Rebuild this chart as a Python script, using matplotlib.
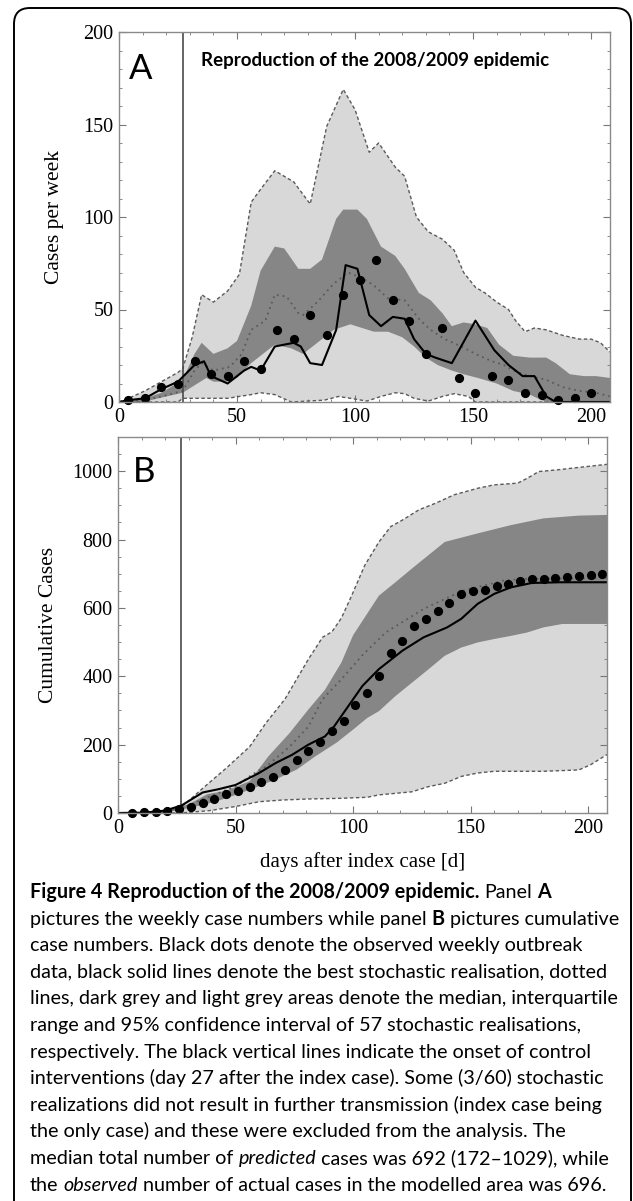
import numpy as np
import matplotlib
matplotlib.use("Agg")
import matplotlib.pyplot as plt
from matplotlib.patches import FancyBboxPatch
from matplotlib.transforms import IdentityTransform
from matplotlib.ticker import MultipleLocator

W, H = 633, 1201

###--- Panel A: weekly cases ---###
obs_days_a = [4, 11, 18, 25, 32, 39, 46, 53, 60, 67, 74, 81, 88, 95, 102, 109, 116, 123, 130, 137,
              144, 151, 158, 165, 172, 179, 186, 193, 200]
obs_a = [1, 2, 8, 10, 22, 15, 14, 22, 18, 39, 34, 47, 36, 58, 66, 77, 55, 44, 26, 40,
         13, 5, 14, 12, 5, 4, 1, 2, 5]

up95_days_a = [0, 4, 11, 18, 25, 27, 31, 35, 40, 46, 51, 56, 60, 66, 70, 74, 81, 88, 95, 100, 106, 110,
               117, 121, 126, 131, 137, 142, 146, 151, 155, 160, 165, 168, 172, 176, 181, 188, 195, 200, 204, 208]
up95_a = [0, 2, 6, 11, 16, 18, 35, 58, 54, 60, 69, 108, 115, 125, 122, 119, 107, 149, 169, 158, 135, 140,
          127, 122, 100, 92, 88, 82, 70, 62, 59, 54, 50, 44, 38, 40, 39, 36, 34, 34, 32, 27]

lo95_days_a = [0, 25, 27, 46, 56, 60, 66, 73, 87, 93, 98, 105, 111, 117, 121, 125, 131, 137, 142, 148, 151, 208]
lo95_a = [0, 0, 2, 2, 4, 5, 4, 0, 1, 3, 2, 0.5, 3, 5, 4.5, 2, 0.5, 3, 4.5, 3, 0, 0]

q75_days_a = [0, 4, 11, 18, 27, 32, 35, 40, 46, 50, 56, 60, 66, 70, 76, 81, 86, 92, 95, 101, 105, 111,
              117, 121, 127, 132, 137, 141, 146, 151, 156, 161, 167, 174, 181, 185, 191, 197, 202, 208]
q75_a = [0, 1, 2, 5, 12, 26, 32, 26, 29, 33, 52, 71, 84, 83, 72, 72, 77, 99, 104, 104, 99, 84,
         79, 72, 59, 55, 48, 41, 43, 42, 40, 31, 25, 24, 24, 21, 15, 14, 14, 13]

q25_days_a = [0, 10, 27, 32, 37, 40, 46, 50, 56, 63, 66, 73, 78, 83, 91, 98, 103, 108, 114, 120, 125,
              130, 135, 141, 146, 152, 160, 167, 174, 179, 182, 208]
q25_a = [0, 0, 5, 9, 13, 11, 11, 13, 21, 28, 31, 29, 26, 31, 39, 42, 40, 38, 38, 35, 30,
         24, 20, 17, 15, 13, 10, 6, 4, 1, 0, 0]

med_days_a = [0, 11, 18, 27, 32, 35, 40, 47, 52, 56, 62, 66, 71, 76, 78, 84, 91, 97, 103, 108, 114, 121,
              127, 132, 138, 145, 151, 158, 163, 167, 174, 181, 188, 195, 202, 208]
med_a = [0, 1, 3, 6, 17, 21, 17, 19, 26, 39, 44, 58, 57, 48, 47, 54, 64, 70, 67, 63, 56, 55,
         45, 39, 34, 30, 26, 22, 20, 17, 14, 12, 8, 6, 5, 3]

best_days_a = [0, 4, 11, 18, 25, 32, 36, 39, 46, 53, 56, 60, 66, 74, 77, 81, 86, 92, 96, 101, 106, 111,
               116, 121, 125, 130, 134, 141, 151, 159, 165, 171, 176, 181, 185, 208]
best_a = [0, 1, 2, 7, 11, 20, 22, 14, 10, 17, 19, 17, 30, 32, 30, 21, 20, 39, 74, 72, 47, 41,
          46, 45, 34, 26, 24, 21, 44, 28, 20, 14, 14, 3, 0, 0]

###--- Panel B: cumulative cases ---###
obs_days_b = [6, 11, 16, 21, 26, 31, 36, 41, 46, 51, 56, 61, 66, 71, 76, 81, 86, 91, 96, 101, 106,
              111, 116, 121, 126, 131, 136, 141, 146, 151, 156, 161, 166, 171, 176, 181, 186, 191, 196, 201, 206]
obs_b = [1, 2, 4, 7, 11, 17, 30, 41, 56, 65, 75, 92, 104, 126, 155, 180, 209, 241, 269, 315, 350,
         401, 467, 502, 547, 569, 590, 615, 640, 650, 652, 665, 671, 678, 684, 686, 688, 691, 693, 696, 699]

up95_days_b = [0, 20, 27, 36, 46, 56, 63, 71, 81, 87, 91, 95, 99, 105, 111, 116, 121, 128, 135, 143, 153,
               160, 170, 174, 179, 187, 196, 208]
up95_b = [0, 2, 17, 72, 131, 194, 264, 333, 450, 514, 530, 570, 630, 725, 793, 838, 857, 887, 906, 931, 950,
          960, 965, 979, 999, 1004, 1011, 1020]

lo95_days_b = [0, 27, 39, 50, 60, 70, 81, 95, 106, 111, 125, 132, 139, 146, 153, 160, 181, 196, 201, 208]
lo95_b = [0, 0, 7, 19, 33, 38, 41, 43, 46, 53, 62, 77, 87, 107, 117, 122, 122, 126, 141, 171]

q75_days_b = [0, 20, 30, 38, 46, 56, 64, 73, 81, 88, 95, 100, 111, 118, 125, 132, 139, 153, 167, 181, 196, 208]
q75_b = [0, 3, 25, 55, 65, 93, 166, 234, 303, 360, 440, 520, 636, 675, 715, 754, 793, 818, 842, 862, 870, 872]

q25_days_b = [0, 20, 27, 37, 46, 56, 67, 76, 84, 93, 100, 106, 111, 118, 125, 132, 139, 146, 153, 160,
              167, 174, 181, 189, 208]
q25_b = [0, 1, 10, 25, 43, 68, 98, 127, 166, 206, 244, 278, 298, 342, 381, 420, 460, 484, 499, 509,
         518, 528, 543, 553, 553]

med_days_b = [0, 20, 27, 39, 50, 57, 63, 73, 81, 87, 95, 104, 114, 122, 130, 139, 147, 156, 164, 173, 208]
med_b = [0, 4, 14, 48, 78, 112, 136, 194, 253, 333, 391, 462, 529, 563, 597, 626, 651, 666, 680, 685, 687]

best_days_b = [0, 11, 20, 27, 36, 43, 50, 60, 67, 74, 81, 88, 92, 98, 104, 111, 121, 130, 140, 146, 153,
               160, 167, 176, 188, 208]
best_b = [0, 1, 7, 22, 60, 70, 82, 117, 146, 170, 200, 224, 254, 313, 372, 421, 475, 514, 543, 568, 612,
          641, 660, 673, 675, 675]

caption = [
    [("Figure 4 Reproduction of the 2008/2009 epidemic.", "bold", "normal"), (" Panel ", "normal", "normal"),
     ("A", "bold", "normal")],
    [("pictures the weekly case numbers while panel ", "normal", "normal"), ("B", "bold", "normal"),
     (" pictures cumulative", "normal", "normal")],
    [("case numbers. Black dots denote the observed weekly outbreak", "normal", "normal")],
    [("data, black solid lines denote the best stochastic realisation, dotted", "normal", "normal")],
    [("lines, dark grey and light grey areas denote the median, interquartile", "normal", "normal")],
    [("range and 95% confidence interval of 57 stochastic realisations,", "normal", "normal")],
    [("respectively. The black vertical lines indicate the onset of control", "normal", "normal")],
    [("interventions (day 27 after the index case). Some (3/60) stochastic", "normal", "normal")],
    [("realizations did not result in further transmission (index case being", "normal", "normal")],
    [("the only case) and these were excluded from the analysis. The", "normal", "normal")],
    [("median total number of ", "normal", "normal"), ("predicted", "normal", "italic"),
     (" cases was 692 (172\u20131029), while", "normal", "normal")],
    [("the ", "normal", "normal"), ("observed", "normal", "italic"),
     (" number of actual cases in the modelled area was 696.", "normal", "normal")],
]

LIGHT = "#d8d8d8"
DARK = "#868686"
LINE = "#5a5a5a"
SANS = "Lato"

plt.rcParams["font.family"] = "Liberation Serif"

fig = plt.figure(figsize=(W / 100, H / 100), dpi=100)


def frac(x0, y0, x1, y1):
    return [x0 / W, 1 - y1 / H, (x1 - x0) / W, (y1 - y0) / H]


ax_a = fig.add_axes(frac(119, 32, 610, 402))
ax_b = fig.add_axes(frac(118, 437, 607, 813))


def draw_panel(ax, d):
    up_d, up_v, lo_d, lo_v = d["up95"] + d["lo95"]
    ax.fill(np.r_[up_d, lo_d[::-1]], np.r_[up_v, lo_v[::-1]], color=LIGHT, lw=0, zorder=1)
    q75_d, q75_v, q25_d, q25_v = d["q75"] + d["q25"]
    ax.fill(np.r_[q75_d, q25_d[::-1]], np.r_[q75_v, q25_v[::-1]], color=DARK, lw=0, zorder=2)
    ax.plot(up_d, up_v, color=LINE, lw=1.0, ls=(0, (2.5, 1.8)), zorder=3)
    ax.plot(lo_d, lo_v, color=LINE, lw=1.0, ls=(0, (2.5, 1.8)), zorder=3)
    ax.plot(*d["med"], color=LINE, lw=1.3, ls=(0, (1, 2.2)), zorder=3)
    ax.axvline(27, color="#4a4a4a", lw=1.2, zorder=3)
    ax.plot(*d["best"], color="black", lw=1.5, zorder=4)
    ax.plot(*d["obs"], "o", color="black", ms=5.6, zorder=5, clip_on=False)


draw_panel(ax_a, {
    "up95": [np.array(up95_days_a), np.array(up95_a)], "lo95": [np.array(lo95_days_a), np.array(lo95_a)],
    "q75": [np.array(q75_days_a), np.array(q75_a)], "q25": [np.array(q25_days_a), np.array(q25_a)],
    "med": [med_days_a, med_a], "best": [best_days_a, best_a], "obs": [obs_days_a, obs_a]})
draw_panel(ax_b, {
    "up95": [np.array(up95_days_b), np.array(up95_b)], "lo95": [np.array(lo95_days_b), np.array(lo95_b)],
    "q75": [np.array(q75_days_b), np.array(q75_b)], "q25": [np.array(q25_days_b), np.array(q25_b)],
    "med": [med_days_b, med_b], "best": [best_days_b, best_b], "obs": [obs_days_b, obs_b]})

ax_a.set_ylim(0, 200)
ax_a.yaxis.set_major_locator(MultipleLocator(50))
ax_a.yaxis.set_minor_locator(MultipleLocator(10))
ax_b.set_ylim(0, 1100)
ax_b.yaxis.set_major_locator(MultipleLocator(200))
ax_b.yaxis.set_minor_locator(MultipleLocator(50))

for ax in (ax_a, ax_b):
    ax.set_xlim(0, 208)
    ax.xaxis.set_major_locator(MultipleLocator(50))
    ax.xaxis.set_minor_locator(MultipleLocator(10))
    ax.tick_params(which="both", direction="in", top=True, right=True, color="#777777",
                   labelcolor="black", labelsize=14.5)
    ax.tick_params(which="major", length=5, width=0.8, pad=4)
    ax.tick_params(which="minor", length=2.5, width=0.6)
    for s in ax.spines.values():
        s.set_color("#8a8a8a")
        s.set_linewidth(1.0)
        s.set_zorder(6)

ax_a.text(0.02, 0.873, "A", transform=ax_a.transAxes, family=SANS, fontsize=25, va="baseline")
ax_b.text(0.03, 0.88, "B", transform=ax_b.transAxes, family=SANS, fontsize=25, va="baseline")
ax_a.text(0.166, 0.924, "Reproduction of the 2008/2009 epidemic", transform=ax_a.transAxes,
          family=SANS, fontweight="bold", fontsize=13.5, va="center")

fig.text(54.5 / W, 1 - 217 / H, "Cases per week", rotation=90, ha="center", va="center", fontsize=15.5)
fig.text(48.5 / W, 1 - 625 / H, "Cumulative Cases", rotation=90, ha="center", va="center", fontsize=15.5)
fig.text(362.5 / W, 1 - 862 / H, "days after index case [d]", ha="center", va="center", fontsize=15)

# rounded frame round the figure
frame = FancyBboxPatch((14, -20), 617, H - 8 + 20, boxstyle="round,pad=0,rounding_size=16",
                       transform=IdentityTransform(), fill=False, ec="black", lw=1.4)
fig.add_artist(frame)

# caption, drawn run by run so bold / italic pieces sit inline
renderer = fig.canvas.get_renderer()


def run_width(txt, weight, style, size):
    t = fig.text(0, 0, txt, family=SANS, fontsize=size, weight=weight, style=style)
    w = t.get_window_extent(renderer).width
    t.remove()
    return w


def space_width(weight, style, size):
    return run_width("a a", weight, style, size) - run_width("aa", weight, style, size)


def draw_line(runs, x, y, size):
    for txt, weight, style in runs:
        core = txt.strip(" ")
        sp = space_width(weight, style, size)
        x += sp * (len(txt) - len(txt.lstrip(" ")))
        fig.text(x / W, 1 - y / H, core, family=SANS, fontsize=size, weight=weight, style=style,
                 va="baseline", ha="left")
        x += run_width(core, weight, style, size)
        x += sp * (len(txt) - len(txt.rstrip(" ")))
    return x


def line_width(runs, size):
    total = 0
    for txt, weight, style in runs:
        core = txt.strip(" ")
        total += run_width(core, weight, style, size)
        total += space_width(weight, style, size) * (len(txt) - len(core))
    return total


size = 13.0
size = size * 588 / line_width(caption[1], size)
for i, runs in enumerate(caption):
    draw_line(runs, 30, 898 + 26.6 * i, size)

fig.savefig("out.png", dpi=100)
